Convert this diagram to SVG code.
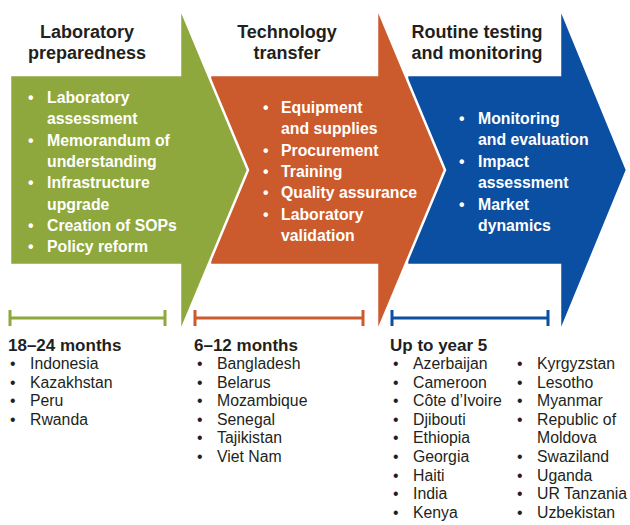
<svg xmlns="http://www.w3.org/2000/svg" width="630" height="525" viewBox="0 0 630 525">
<style>
.t{font-family:"Liberation Sans",Arial,sans-serif;font-weight:700;font-size:18px;fill:#231f20;text-anchor:middle}
.w{font-family:"Liberation Sans",Arial,sans-serif;font-weight:700;font-size:15.8px;fill:#ffffff}
.h{font-family:"Liberation Sans",Arial,sans-serif;font-weight:700;font-size:17px;fill:#231f20}
.c{font-family:"Liberation Sans",Arial,sans-serif;font-weight:400;font-size:15.8px;fill:#231f20}
.arr{stroke:#ffffff;stroke-width:2.5;stroke-linejoin:miter}
.bar{fill:none;stroke-width:3}
</style>
<rect width="630" height="525" fill="#ffffff"/>
<g id="stage3">
<path class="arr" fill="#0a4fa2" d="M407,75 H560 V7 L627,170 L560,333 V265 H407 Z"/>
<text class="t" x="477" y="38">Routine testing</text>
<text class="t" x="477" y="59">and monitoring</text>
<g class="w">
<text x="459" y="124">•</text><text x="478" y="124">Monitoring</text>
<text x="478" y="145.4">and evaluation</text>
<text x="459" y="166.8">•</text><text x="478" y="166.8">Impact</text>
<text x="478" y="188.2">assessment</text>
<text x="459" y="209.6">•</text><text x="478" y="209.6">Market</text>
<text x="478" y="231">dynamics</text>
</g>
</g>
<g id="stage2">
<path class="arr" fill="#cb5a2d" d="M210,75 H377 V7 L445,170 L377,333 V265 H210 Z"/>
<text class="t" x="287" y="38">Technology</text>
<text class="t" x="287" y="59">transfer</text>
<g class="w">
<text x="263" y="113">•</text><text x="281" y="113">Equipment</text>
<text x="281" y="134.3">and supplies</text>
<text x="263" y="155.6">•</text><text x="281" y="155.6">Procurement</text>
<text x="263" y="176.9">•</text><text x="281" y="176.9">Training</text>
<text x="263" y="198.2">•</text><text x="281" y="198.2">Quality assurance</text>
<text x="263" y="219.5">•</text><text x="281" y="219.5">Laboratory</text>
<text x="281" y="240.8">validation</text>
</g>
</g>
<g id="stage1">
<path class="arr" fill="#8ea83d" d="M10,75 H180 V7 L248,170 L180,333 V265 H10 Z"/>
<text class="t" x="87" y="38">Laboratory</text>
<text class="t" x="87" y="59">preparedness</text>
<g class="w">
<text x="28" y="103">•</text><text x="47" y="103">Laboratory</text>
<text x="47" y="124.3">assessment</text>
<text x="28" y="145.6">•</text><text x="47" y="145.6">Memorandum of</text>
<text x="47" y="166.9">understanding</text>
<text x="28" y="188.2">•</text><text x="47" y="188.2">Infrastructure</text>
<text x="47" y="209.5">upgrade</text>
<text x="28" y="230.8">•</text><text x="47" y="230.8">Creation of SOPs</text>
<text x="28" y="252.1">•</text><text x="47" y="252.1">Policy reform</text>
</g>
</g>
<g id="connectors">
<path class="bar" stroke="#8ea83d" d="M10,318 H165 M10,310 V326 M165,310 V326"/>
<path class="bar" stroke="#cb5a2d" d="M195,318 H363 M195,310 V326 M363,310 V326"/>
<path class="bar" stroke="#0a4fa2" d="M392,318 H548 M392,310 V326 M548,310 V326"/>
</g>
<g id="timeline1">
<text class="h" x="8" y="350.5">18–24 months</text>
<g class="c">
<text x="10" y="369">•</text><text x="30" y="369">Indonesia</text>
<text x="10" y="387.6">•</text><text x="30" y="387.6">Kazakhstan</text>
<text x="10" y="406.2">•</text><text x="30" y="406.2">Peru</text>
<text x="10" y="424.8">•</text><text x="30" y="424.8">Rwanda</text>
</g>
</g>
<g id="timeline2">
<text class="h" x="194" y="350.5">6–12 months</text>
<g class="c">
<text x="197" y="369">•</text><text x="217" y="369">Bangladesh</text>
<text x="197" y="387.6">•</text><text x="217" y="387.6">Belarus</text>
<text x="197" y="406.2">•</text><text x="217" y="406.2">Mozambique</text>
<text x="197" y="424.8">•</text><text x="217" y="424.8">Senegal</text>
<text x="197" y="443.4">•</text><text x="217" y="443.4">Tajikistan</text>
<text x="197" y="462">•</text><text x="217" y="462">Viet Nam</text>
</g>
</g>
<g id="timeline3">
<text class="h" x="390" y="350.5">Up to year 5</text>
<g class="c">
<text x="393" y="369">•</text><text x="413" y="369">Azerbaijan</text>
<text x="393" y="387.6">•</text><text x="413" y="387.6">Cameroon</text>
<text x="393" y="406.2">•</text><text x="413" y="406.2">Côte d’Ivoire</text>
<text x="393" y="424.8">•</text><text x="413" y="424.8">Djibouti</text>
<text x="393" y="443.4">•</text><text x="413" y="443.4">Ethiopia</text>
<text x="393" y="462">•</text><text x="413" y="462">Georgia</text>
<text x="393" y="480.6">•</text><text x="413" y="480.6">Haiti</text>
<text x="393" y="499.2">•</text><text x="413" y="499.2">India</text>
<text x="393" y="517.8">•</text><text x="413" y="517.8">Kenya</text>
<text x="517" y="369">•</text><text x="537" y="369">Kyrgyzstan</text>
<text x="517" y="387.6">•</text><text x="537" y="387.6">Lesotho</text>
<text x="517" y="406.2">•</text><text x="537" y="406.2">Myanmar</text>
<text x="517" y="424.8">•</text><text x="537" y="424.8">Republic of</text>
<text x="537" y="443.4">Moldova</text>
<text x="517" y="462">•</text><text x="537" y="462">Swaziland</text>
<text x="517" y="480.6">•</text><text x="537" y="480.6">Uganda</text>
<text x="517" y="499.2">•</text><text x="537" y="499.2">UR Tanzania</text>
<text x="517" y="517.8">•</text><text x="537" y="517.8">Uzbekistan</text>
</g>
</g>
</svg>
